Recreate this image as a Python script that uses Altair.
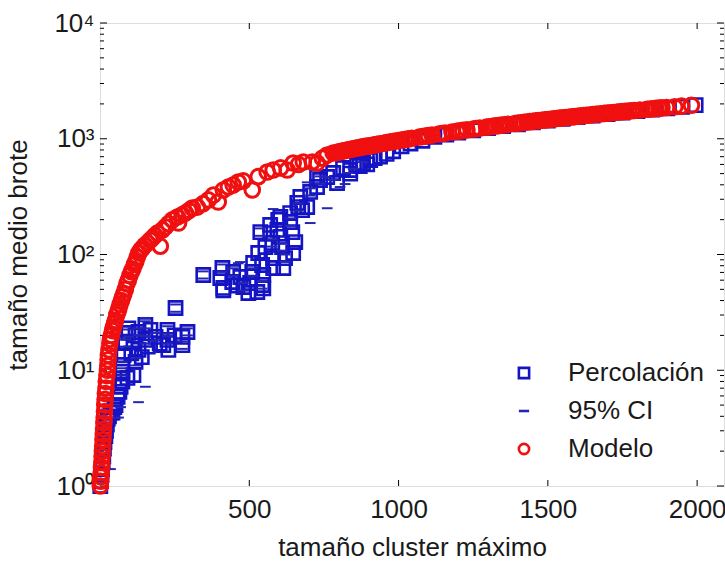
import altair as alt
import pandas as pd

# ---------------- data ----------------
series = ["Percolación", "95% CI", "Modelo"]

# Percolación (blue squares)
perc_x = [1, 3, 5, 7, 9, 11, 13, 15, 18, 20, 23, 26, 30, 36, 42, 48, 52, 59, 65, 69,
          75, 92, 75, 112, 75, 119, 79, 129, 85, 112, 95, 129, 152, 152, 186, 226, 226, 229, 276, 293,
          253, 105, 160, 200, 250, 140, 95, 169, 212, 276, 119,
          346, 410, 403, 413, 446, 443, 470, 480, 503, 510, 527, 543, 547, 543, 530, 554, 537, 570, 570, 577,
          580, 580, 614, 620, 610, 604, 597, 637, 644, 654, 647, 637, 664, 513, 413, 497, 547, 460, 594, 604,
          661, 677, 671, 694, 704, 727, 737, 727, 761, 781, 794, 814, 838, 861, 881, 905,
          838, 870, 895, 920, 938, 960, 982, 1010, 1040, 1080, 1120, 1160, 1200, 1250, 1300, 1350, 1400, 1450,
          1500, 1550, 1600, 1650, 1700, 1750, 1800, 1850, 1900, 1950, 1995]
perc_y = [1.0, 1.1, 1.25, 1.4, 1.6, 1.8, 2.1, 2.4, 2.7, 3.0, 3.4, 3.8, 4.0, 4.3, 4.3, 4.8, 5.0, 5.9, 6.5, 7.2,
          8.0, 8.6, 9.7, 9.1, 11.1, 11.8, 13.5, 15.0, 17.2, 17.5, 21.0, 21.4, 24.6, 18.3, 19.4, 22.3, 18.3, 15.0, 16.5, 21.4,
          34.5, 14.0, 16.0, 17.0, 20.0, 13.0, 23.0, 22.3, 16.5, 19.4, 20.0,
          66.5, 76.4, 62.7, 51.4, 70.6, 57.9, 63.9, 52.4, 56.7, 70.6, 47.4, 54.5, 66.5, 81.1, 103, 116, 156, 153, 180, 126,
          93, 76.4, 76.4, 93, 116, 142, 199, 191, 156, 128, 103, 228, 257, 84.5, 49, 46.5, 51, 54, 163, 211,
          279, 242, 314, 257, 347, 383, 440, 467, 467, 506, 415, 559, 537, 593, 617, 655,
          500, 580, 600, 680, 700, 740, 780, 860, 910, 960, 1040, 1085, 1130, 1185, 1235, 1285, 1335, 1385,
          1435, 1485, 1535, 1585, 1635, 1685, 1735, 1785, 1835, 1885, 1950]

# 95% CI (blue dashes)
ci_x = [152, 152, 129, 75, 69, 62, 35, 580, 470, 694, 761, 704, 848, 881, 754, 804, 821, 831, 463, 781,
        95, 95, 129, 129, 152, 152, 152, 152, 186, 186, 226, 226, 226, 226, 276, 276, 293, 293, 253, 253,
        85, 85, 119, 119, 75, 75,
        346, 346, 410, 410, 446, 446, 480, 480, 510, 510, 543, 543, 537, 537, 577, 577, 610, 610, 620, 620,
        637, 637, 664, 664, 704, 704, 737, 737]
ci_y = [28.3, 7.2, 5.3, 11.8, 4.8, 3.9, 1.4, 247, 86, 420, 251, 187, 550, 630, 467, 383, 406, 506, 84, 440,
        22.5, 19.5, 23, 20, 26.5, 23, 19.7, 17, 21, 18, 24, 20.7, 19.7, 17, 17.8, 15.3, 23, 20, 37, 32,
        18.5, 16, 12.7, 11, 10.4, 9,
        71.5, 62, 82, 71, 76, 65.5, 56.5, 48.7, 76, 65.5, 58.5, 50.7, 168, 145, 135, 117, 125, 108, 100, 86.5,
        205, 177, 276, 239, 373, 323, 473, 409]

# Modelo (red circles), rising part
modelo_x = [1, 2, 3, 4, 5, 6, 7, 8, 9, 10, 11, 12, 13, 14, 15, 16, 17, 18, 20, 21,
            23, 25, 26, 27, 28, 30, 33, 35, 38, 42, 45, 49, 52, 56, 60, 63, 67, 72, 76, 80,
            85, 90, 95, 100, 105, 110, 115, 120, 125, 130, 137, 143, 150, 159, 168, 176, 184, 192, 202, 209,
            219, 230, 242, 259, 263, 275, 286, 298, 309, 326, 345, 363, 380, 396, 413, 430, 446, 463, 480, 510,
            530, 560, 580, 605, 627, 647, 665, 681, 711, 727, 745, 761, 781, 792]
modelo_y = [1.0, 1.1, 1.2, 1.3, 1.45, 1.6, 1.8, 2.0, 2.2, 2.5, 2.8, 3.1, 3.5, 3.9, 4.4, 5.0, 5.6, 6.3, 7.0, 8.0,
            9.0, 10.0, 11.0, 12.3, 13.5, 15.0, 17.0, 18.5, 20.0, 22.0, 23.5, 25.5, 27.0, 30.0, 32.0, 34.0, 37.0, 40.0, 43.0, 46.0,
            50.0, 56.0, 60.0, 66.0, 71.0, 75.0, 82.0, 87.0, 95.0, 103.0, 110, 114, 120, 126, 133, 139, 146, 153, 118, 163,
            173, 185, 199, 211, 187, 220, 228, 240, 252, 257, 275, 296, 326, 284, 361, 383, 398, 423, 432, 361,
            470, 516, 537, 560, 537, 617, 600, 630, 630, 617, 680, 724, 753, 760]

# Modelo (red circles), dense band
band_x = [800, 808, 816, 824, 832, 840, 848, 856, 864, 872, 880, 888, 896, 904, 912, 920, 928, 938, 950, 960,
          970, 980, 990, 1000, 1010, 1020, 1032, 1045, 1070, 1080, 1090, 1100, 1112, 1135, 1145, 1156, 1179, 1195, 1205, 1215,
          1229, 1250, 1260, 1272, 1295, 1305, 1315, 1325, 1335, 1345, 1355, 1366, 1390, 1400, 1410, 1420, 1430, 1440, 1450, 1460,
          1470, 1480, 1490, 1500, 1510, 1520, 1530, 1540, 1550, 1560, 1570, 1580, 1590, 1600, 1610, 1620, 1630, 1640, 1650, 1660,
          1670, 1680, 1690, 1700, 1710, 1720, 1730, 1740, 1750, 1760, 1770, 1780, 1790, 1808, 1832, 1842, 1852, 1862, 1872, 1882,
          1898, 1925, 1948, 1981]
band_y = [770, 778, 786, 794, 802, 810, 818, 826, 834, 842, 850, 858, 866, 869, 877, 885, 893, 903, 915, 925,
          935, 945, 955, 965, 975, 985, 997, 1010, 1035, 1045, 1055, 1065, 1077, 1100, 1110, 1121, 1144, 1160, 1170, 1180,
          1194, 1215, 1225, 1237, 1260, 1270, 1280, 1290, 1300, 1310, 1320, 1331, 1355, 1365, 1375, 1385, 1395, 1405, 1415, 1425,
          1435, 1445, 1455, 1465, 1475, 1485, 1495, 1505, 1515, 1525, 1535, 1545, 1555, 1565, 1575, 1585, 1595, 1605, 1615, 1625,
          1635, 1645, 1655, 1665, 1675, 1685, 1695, 1705, 1715, 1725, 1735, 1745, 1755, 1773, 1797, 1807, 1817, 1827, 1837, 1847,
          1863, 1890, 1913, 1946]

x_ticks = [500, 1000, 1500, 2000]
y_ticks = [1, 10, 100, 1000, 10000]

assert len(perc_x) == len(perc_y)
assert len(ci_x) == len(ci_y)
assert len(modelo_x) == len(modelo_y)
assert len(band_x) == len(band_y)

# ---------------- build table ----------------
sizes = {"Percolación": 175, "95% CI": 115, "Modelo": 215}
strokes = {"Percolación": 2.6, "95% CI": 2.0, "Modelo": 3.0}
rows = []
for xs, ys, s in [(perc_x, perc_y, "Percolación"), (ci_x, ci_y, "95% CI"),
                  (modelo_x + band_x, modelo_y + band_y, "Modelo")]:
    for a, b in zip(xs, ys):
        rows.append({"x": a, "y": b, "serie": s, "sz": sizes[s], "sw": strokes[s]})
df = pd.DataFrame(rows)

y_minor = [m * 10 ** k for k in range(4) for m in range(2, 10)]

FONT = "Liberation Sans"
W, H = 624, 463
TXT = "#1a1a1a"

xscale = alt.Scale(domain=[0, 2090], nice=False, zero=False)
yscale = alt.Scale(type="log", domain=[1, 10000], nice=False)

xaxis = alt.Axis(values=x_ticks, format="d", title="tamaño cluster máximo", ticks=False, tickSize=0,
                 domain=False, grid=False, labelFontSize=26, titleFontSize=26, labelPadding=10,
                 titlePadding=12, labelFlush=False, labelColor=TXT, titleColor=TXT,
                 titleFontWeight="normal", labelFont=FONT, titleFont=FONT)
yaxis = alt.Axis(values=y_ticks, title="tamaño medio brote", ticks=False, tickSize=0, domain=False,
                 grid=False, labelFontSize=26, titleFontSize=26, labelPadding=6, titlePadding=22,
                 labelColor=TXT, titleColor=TXT, titleFontWeight="normal", labelFont=FONT, titleFont=FONT,
                 labelExpr="datum.value == 1 ? '10⁰' : datum.value == 10 ? '10¹' : datum.value == 100 ? '10²' : datum.value == 1000 ? '10³' : '10⁴'")

X = alt.X("x:Q", scale=xscale, axis=xaxis)
Y = alt.Y("y:Q", scale=yscale, axis=yaxis)

colors = ["#1414c4", "#2626b0", "#f01010"]
shapes = ["square", "M-1,0L1,0", "circle"]
leg = alt.Legend(title=None, orient="none", legendX=411, legendY=337, symbolSize=105,
                 symbolStrokeWidth=2.6, labelFontSize=26, labelFont=FONT, labelColor=TXT,
                 labelOffset=31, rowPadding=12, padding=0, direction="vertical")

points = alt.Chart(df).mark_point(filled=False, opacity=1).encode(
    x=X, y=Y,
    color=alt.Color("serie:N", scale=alt.Scale(domain=series, range=colors), legend=leg),
    shape=alt.Shape("serie:N", scale=alt.Scale(domain=series, range=shapes), legend=leg),
    size=alt.Size("sz:Q", scale=None),
    strokeWidth=alt.StrokeWidth("sw:Q", scale=None),
)

ymaj = pd.DataFrame({"y": y_ticks})
ymin = pd.DataFrame({"y": y_minor})
xmaj = pd.DataFrame({"x": x_ticks})

rule = dict(color="black", strokeWidth=1)
t1 = alt.Chart(ymaj).mark_rule(**rule).encode(y=Y, x=alt.value(0), x2=alt.value(7))
t2 = alt.Chart(ymin).mark_rule(**rule).encode(y=Y, x=alt.value(0), x2=alt.value(4))
t3 = alt.Chart(ymaj).mark_rule(**rule).encode(y=Y, x=alt.value(W), x2=alt.value(W - 7))
t4 = alt.Chart(ymin).mark_rule(**rule).encode(y=Y, x=alt.value(W), x2=alt.value(W - 4))
t5 = alt.Chart(xmaj).mark_rule(**rule).encode(x=X, y=alt.value(H), y2=alt.value(H - 6))
t6 = alt.Chart(xmaj).mark_rule(**rule).encode(x=X, y=alt.value(0), y2=alt.value(6))

chart = alt.layer(t1, t2, t3, t4, t5, t6, points).properties(
    width=W, height=H,
    padding={"left": 100, "top": 23, "right": 1, "bottom": 76},
    autosize=alt.AutoSizeParams(type="none"),
    background="white",
).configure_view(stroke="black", strokeWidth=2).configure(font=FONT)

chart.save("out.html", embed_options={"renderer": "svg", "actions": False})
